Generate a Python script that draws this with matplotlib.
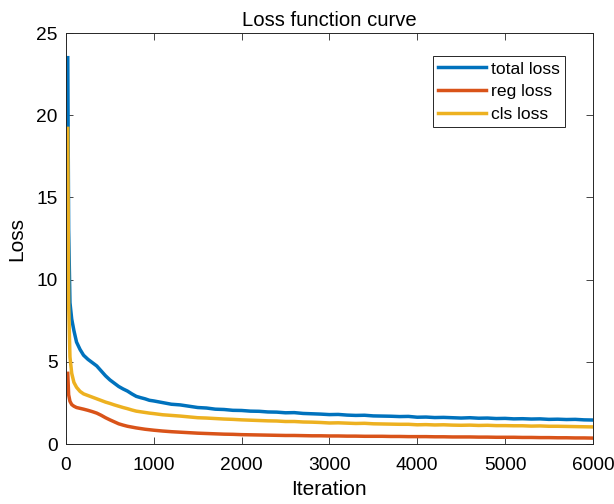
import matplotlib
matplotlib.use('Agg')
import matplotlib.pyplot as plt

plt.rcParams['font.family'] = ['Liberation Sans', 'DejaVu Sans']

# iteration numbers
iters = [20, 30, 45, 65, 90, 120, 160, 200, 250, 300, 350, 400, 450, 500, 550,
         600, 650, 700, 750, 800, 850, 900, 950, 1000, 1100, 1200, 1300, 1400, 1500,
         1600, 1700, 1800, 1900, 2000, 2100, 2200, 2300, 2400, 2500, 2600, 2700,
         2800, 2900, 3000, 3100, 3200, 3300, 3400, 3500, 3600, 3700, 3800, 3900,
         4000, 4100, 4200, 4300, 4400, 4500, 4600, 4700, 4800, 4900, 5000, 5100,
         5200, 5300, 5400, 5500, 5600, 5700, 5800, 5900, 6000]

total_loss = [23.5, 13.0, 8.6, 7.6, 6.9, 6.2, 5.75, 5.4, 5.15, 4.95, 4.75, 4.45, 4.15, 3.9, 3.7,
              3.5, 3.35, 3.22, 3.05, 2.9, 2.82, 2.75, 2.66, 2.62, 2.52, 2.42, 2.38, 2.3, 2.22,
              2.19, 2.12, 2.1, 2.05, 2.04, 2.0, 1.99, 1.95, 1.94, 1.9, 1.91, 1.86,
              1.84, 1.82, 1.79, 1.8, 1.76, 1.74, 1.75, 1.71, 1.7, 1.69, 1.67, 1.68,
              1.63, 1.64, 1.61, 1.62, 1.6, 1.58, 1.6, 1.57, 1.58, 1.55, 1.56, 1.53,
              1.54, 1.52, 1.53, 1.5, 1.51, 1.49, 1.5, 1.47, 1.46]

reg_loss = [4.3, 3.0, 2.6, 2.4, 2.3, 2.22, 2.17, 2.12, 2.05, 1.97, 1.88, 1.75, 1.6, 1.47, 1.35,
            1.23, 1.15, 1.08, 1.03, 0.98, 0.94, 0.9, 0.87, 0.84, 0.79, 0.75, 0.72, 0.69, 0.66,
            0.64, 0.62, 0.6, 0.59, 0.57, 0.56, 0.55, 0.54, 0.53, 0.52, 0.52, 0.51,
            0.5, 0.5, 0.49, 0.49, 0.48, 0.48, 0.47, 0.47, 0.47, 0.46, 0.46, 0.45,
            0.45, 0.45, 0.44, 0.44, 0.43, 0.43, 0.43, 0.42, 0.42, 0.41, 0.41, 0.41,
            0.4, 0.4, 0.39, 0.39, 0.38, 0.38, 0.37, 0.37, 0.36]

cls_loss = [19.2, 8.5, 5.3, 4.3, 3.75, 3.45, 3.2, 3.05, 2.95, 2.85, 2.75, 2.65, 2.55, 2.47, 2.38,
            2.3, 2.22, 2.15, 2.07, 2.0, 1.96, 1.92, 1.88, 1.85, 1.78, 1.74, 1.7, 1.65, 1.6,
            1.58, 1.55, 1.52, 1.5, 1.47, 1.45, 1.43, 1.41, 1.4, 1.37, 1.37, 1.34,
            1.33, 1.31, 1.28, 1.29, 1.27, 1.25, 1.26, 1.23, 1.22, 1.21, 1.2, 1.2,
            1.17, 1.18, 1.16, 1.17, 1.15, 1.14, 1.15, 1.13, 1.14, 1.12, 1.12, 1.11,
            1.11, 1.09, 1.1, 1.08, 1.08, 1.07, 1.06, 1.05, 1.04]

colors = ['#0072BD', '#D95319', '#EDB120']

fig = plt.figure(figsize=(6.14, 5.04), dpi=100)
ax = fig.add_axes([0.1075, 0.119, 0.858, 0.8155])

ax.plot(iters, total_loss, color=colors[0], linewidth=2.5, label='total loss')
ax.plot(iters, reg_loss, color=colors[1], linewidth=2.5, label='reg loss')
ax.plot(iters, cls_loss, color=colors[2], linewidth=2.5, label='cls loss')

ax.set_xlim(0, 6000)
ax.set_ylim(0, 25)
ax.set_xticks([0, 1000, 2000, 3000, 4000, 5000, 6000])
ax.set_yticks([0, 5, 10, 15, 20, 25])
ax.tick_params(direction='in', top=True, right=True, labelsize=13.8,
               color='#262626', length=5, width=0.6)
ax.tick_params(axis='x', pad=9)
ax.tick_params(axis='y', pad=6)
for s in ax.spines.values():
    s.set_color('#262626')
    s.set_linewidth(0.7)

ax.set_title('Loss function curve', fontsize=14.6, pad=5)
ax.set_xlabel('Iteration', fontsize=15, labelpad=5)
ax.set_ylabel('Loss', fontsize=15, labelpad=7)

leg = ax.legend(loc='upper right', bbox_to_anchor=(0.947, 0.944), borderaxespad=0,
                fontsize=12.6, handlelength=2.75, fancybox=False, framealpha=1,
                edgecolor='#262626', borderpad=0.3, labelspacing=0.42, handletextpad=0.25)
leg.get_frame().set_linewidth(0.7)

fig.savefig('out.png', dpi=100)
